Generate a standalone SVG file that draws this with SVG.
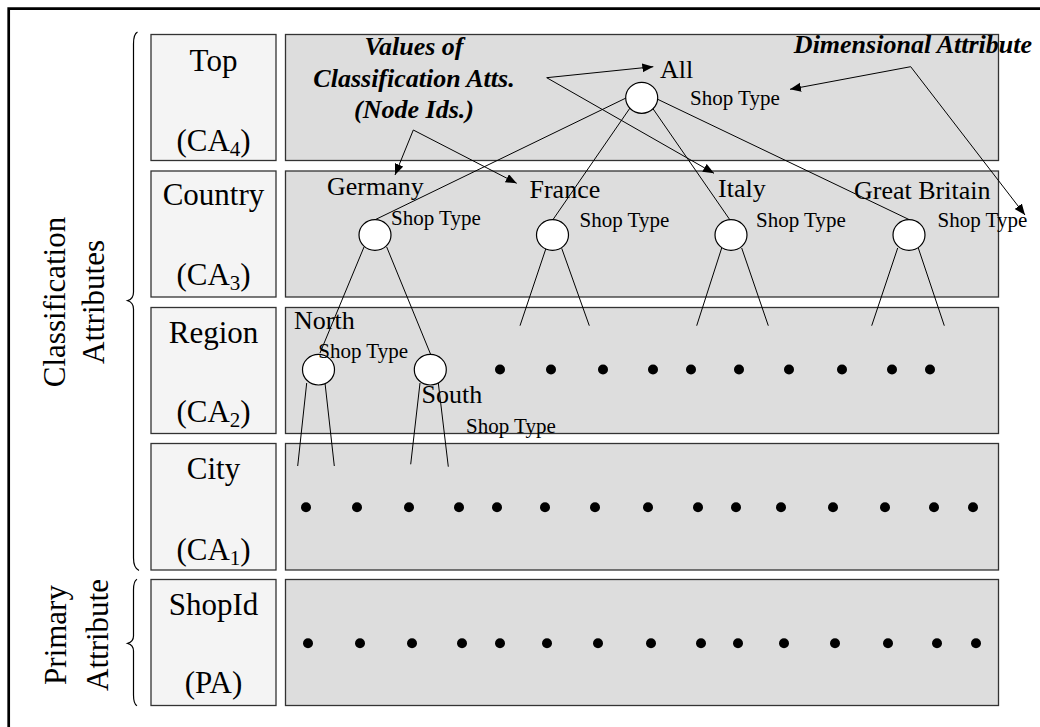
<svg xmlns="http://www.w3.org/2000/svg" width="1040" height="727" viewBox="0 0 1040 727">
  <style>
    .t { font-family: "Liberation Serif", "Times New Roman", serif; fill: #000; }
    .lbl { font-size: 31px; text-anchor: middle; }
    .val { font-size: 26px; }
    .st { font-size: 21px; }
    .note { font-size: 26px; font-weight: bold; font-style: italic; }
    .side { font-size: 31px; text-anchor: middle; }
    .lvl { fill: #f4f4f4; stroke: #333; stroke-width: 1.3; }
    .band { fill: #dddddd; stroke: #333; stroke-width: 1.3; }
    .node { fill: #fff; stroke: #000; stroke-width: 1.2; }
    .edge { stroke: #000; stroke-width: 1; fill: none; }
    .arr { stroke: #000; stroke-width: 1; fill: none; marker-end: url(#head); }
    .brace { stroke: #000; stroke-width: 1.2; fill: none; }
    .dot { fill: #000; }
  </style>
  <defs>
    <marker id="head" markerUnits="userSpaceOnUse" markerWidth="12" markerHeight="10" refX="11" refY="4.5" orient="auto">
      <path d="M0,0 L11,4.5 L0,9 z" fill="#000"/>
    </marker>
  </defs>

  <rect width="1040" height="727" fill="#fff"/>
  <!-- outer frame (runs off the right and bottom edges) -->
  <path d="M1040,8.7 H8.7 V727" fill="none" stroke="#000" stroke-width="2.7"/>

  <!-- side captions and braces -->
  <g id="classification-attributes">
    <path class="brace" d="M137.5,32 Q133.5,34 133.5,44 V292 Q133.5,299 127.7,300.7 Q133.5,302.5 133.5,309 V558 Q133.5,568 139,570.5"/>
    <text class="t side" transform="translate(0,302) rotate(-90)"><tspan x="0" y="64.5">Classification</tspan><tspan x="0" y="103.5">Attributes</tspan></text>
  </g>
  <g id="primary-attribute">
    <path class="brace" d="M137,579.3 Q133.5,581 133.5,590 V636 Q133.5,641.5 127.7,643.3 Q133.5,645 133.5,651 V695 Q133.5,704 137,705.7"/>
    <text class="t side" transform="translate(0,635) rotate(-90)"><tspan x="0" y="65.5">Primary</tspan><tspan x="0" y="107.5">Attribute</tspan></text>
  </g>

  <!-- level rows -->
  <g id="row-top">
    <rect class="lvl" x="151" y="34.5" width="125" height="126"/>
    <rect class="band" x="285.5" y="34.5" width="713" height="126"/>
    <text class="t lbl" x="213.5" y="71">Top</text>
    <text class="t lbl" x="213.5" y="151">(CA<tspan font-size="21" dy="5">4</tspan><tspan dy="-5">)</tspan></text>
  </g>
  <g id="row-country">
    <rect class="lvl" x="151" y="171" width="125" height="126"/>
    <rect class="band" x="285.5" y="171" width="713" height="126"/>
    <text class="t lbl" x="213.5" y="205">Country</text>
    <text class="t lbl" x="213.5" y="285">(CA<tspan font-size="21" dy="5">3</tspan><tspan dy="-5">)</tspan></text>
  </g>
  <g id="row-region">
    <rect class="lvl" x="151" y="307.5" width="125" height="126"/>
    <rect class="band" x="285.5" y="307.5" width="713" height="126"/>
    <text class="t lbl" x="213.5" y="343">Region</text>
    <text class="t lbl" x="213.5" y="422">(CA<tspan font-size="21" dy="5">2</tspan><tspan dy="-5">)</tspan></text>
  </g>
  <g id="row-city">
    <rect class="lvl" x="151" y="443.5" width="125" height="126.5"/>
    <rect class="band" x="285.5" y="443.5" width="713" height="126.5"/>
    <text class="t lbl" x="213.5" y="479">City</text>
    <text class="t lbl" x="213.5" y="560">(CA<tspan font-size="21" dy="5">1</tspan><tspan dy="-5">)</tspan></text>
  </g>
  <g id="row-shopid">
    <rect class="lvl" x="151" y="579.5" width="125" height="126"/>
    <rect class="band" x="285.5" y="579.5" width="713" height="126"/>
    <text class="t lbl" x="213.5" y="615">ShopId</text>
    <text class="t lbl" x="213.5" y="693">(PA)</text>
  </g>

  <!-- hierarchy edges and annotation arrows -->
  <g id="connectors">
    <line class="edge" x1="626" y1="98" x2="374.5" y2="220"/>
    <line class="edge" x1="630" y1="108" x2="552.7" y2="220"/>
    <line class="edge" x1="652.7" y1="108.3" x2="730" y2="220"/>
    <line class="edge" x1="657.7" y1="99.3" x2="910" y2="220"/>

    <line class="edge" x1="364" y1="247" x2="320" y2="353"/>
    <line class="edge" x1="386.7" y1="247" x2="430.7" y2="354.5"/>
    <line class="edge" x1="546" y1="248.3" x2="520" y2="325.7"/>
    <line class="edge" x1="561.7" y1="248.3" x2="589.3" y2="325.7"/>
    <line class="edge" x1="721.7" y1="248" x2="696.7" y2="325.7"/>
    <line class="edge" x1="741.7" y1="248" x2="768.3" y2="325.7"/>
    <line class="edge" x1="897.7" y1="248" x2="871.7" y2="325.7"/>
    <line class="edge" x1="918.3" y1="248" x2="944.3" y2="325.7"/>

    <line class="edge" x1="306.7" y1="383" x2="297.7" y2="466"/>
    <line class="edge" x1="325" y1="383" x2="334.3" y2="466"/>
    <line class="edge" x1="420" y1="383" x2="410.7" y2="464.3"/>
    <line class="edge" x1="438.3" y1="383" x2="448.3" y2="466.7"/>

    <line class="arr" x1="546.7" y1="77.7" x2="653.3" y2="66.7"/>
    <line class="arr" x1="546.7" y1="77.7" x2="714" y2="173.3"/>
    <line class="arr" x1="413.3" y1="130" x2="395" y2="175"/>
    <line class="arr" x1="413.3" y1="130" x2="516.7" y2="183.3"/>
    <line class="arr" x1="910.7" y1="66.7" x2="790" y2="89.3"/>
    <line class="arr" x1="910.7" y1="66.7" x2="1025" y2="215"/>
  </g>

  <!-- value nodes -->
  <g id="node-all">
    <ellipse class="node" cx="641.7" cy="97.8" rx="16" ry="15.5"/>
    <text class="t val" x="660" y="78">All</text>
    <text class="t st" x="690" y="105">Shop Type</text>
  </g>
  <g id="node-germany">
    <ellipse class="node" cx="375" cy="235" rx="16" ry="15.3"/>
    <text class="t val" x="327" y="195">Germany</text>
    <text class="t st" x="391" y="225">Shop Type</text>
  </g>
  <g id="node-france">
    <ellipse class="node" cx="552.5" cy="235" rx="16" ry="15.3"/>
    <text class="t val" x="529.5" y="198">France</text>
    <text class="t st" x="579.5" y="227">Shop Type</text>
  </g>
  <g id="node-italy">
    <ellipse class="node" cx="731" cy="235" rx="16" ry="15.3"/>
    <text class="t val" x="718" y="197">Italy</text>
    <text class="t st" x="756" y="227">Shop Type</text>
  </g>
  <g id="node-great-britain">
    <ellipse class="node" cx="909" cy="235" rx="16" ry="15.3"/>
    <text class="t val" x="854" y="199">Great Britain</text>
    <text class="t st" x="937.5" y="227">Shop Type</text>
  </g>
  <g id="node-north">
    <ellipse class="node" cx="318.5" cy="369.7" rx="16" ry="15.3"/>
    <text class="t val" x="294" y="329">North</text>
    <text class="t st" x="318.3" y="357.5">Shop Type</text>
  </g>
  <g id="node-south">
    <ellipse class="node" cx="430.3" cy="369.7" rx="16" ry="15.3"/>
    <text class="t val" x="421.5" y="403">South</text>
    <text class="t st" x="466" y="432.5">Shop Type</text>
  </g>

  <!-- annotations -->
  <g id="note-values">
    <text class="t note" text-anchor="middle" x="414" y="55">Values of</text>
    <text class="t note" text-anchor="middle" x="414" y="87">Classification Atts.</text>
    <text class="t note" text-anchor="middle" x="414" y="118">(Node Ids.)</text>
  </g>
  <g id="note-dimensional">
    <text class="t note" text-anchor="end" x="1032" y="53">Dimensional Attribute</text>
  </g>

  <!-- remaining members of each level -->
  <g id="region-members">
    <circle class="dot" cx="500" cy="369.5" r="5"/>
    <circle class="dot" cx="551" cy="369.5" r="5"/>
    <circle class="dot" cx="603" cy="369.5" r="5"/>
    <circle class="dot" cx="653" cy="369.5" r="5"/>
    <circle class="dot" cx="691" cy="369.5" r="5"/>
    <circle class="dot" cx="739" cy="369.5" r="5"/>
    <circle class="dot" cx="789" cy="369.5" r="5"/>
    <circle class="dot" cx="842" cy="369.5" r="5"/>
    <circle class="dot" cx="892" cy="369.5" r="5"/>
    <circle class="dot" cx="930" cy="369.5" r="5"/>
  </g>
  <g id="city-members">
    <circle class="dot" cx="306" cy="507.3" r="5"/>
    <circle class="dot" cx="357" cy="507.3" r="5"/>
    <circle class="dot" cx="409" cy="507.3" r="5"/>
    <circle class="dot" cx="459" cy="507.3" r="5"/>
    <circle class="dot" cx="497" cy="507.3" r="5"/>
    <circle class="dot" cx="545" cy="507.3" r="5"/>
    <circle class="dot" cx="595" cy="507.3" r="5"/>
    <circle class="dot" cx="648" cy="507.3" r="5"/>
    <circle class="dot" cx="698" cy="507.3" r="5"/>
    <circle class="dot" cx="736" cy="507.3" r="5"/>
    <circle class="dot" cx="781" cy="507.3" r="5"/>
    <circle class="dot" cx="833" cy="507.3" r="5"/>
    <circle class="dot" cx="885" cy="507.3" r="5"/>
    <circle class="dot" cx="934" cy="507.3" r="5"/>
    <circle class="dot" cx="973" cy="507.3" r="5"/>
  </g>
  <g id="shop-members">
    <circle class="dot" cx="308" cy="643.3" r="5"/>
    <circle class="dot" cx="360" cy="643.3" r="5"/>
    <circle class="dot" cx="412" cy="643.3" r="5"/>
    <circle class="dot" cx="462" cy="643.3" r="5"/>
    <circle class="dot" cx="500" cy="643.3" r="5"/>
    <circle class="dot" cx="547" cy="643.3" r="5"/>
    <circle class="dot" cx="598" cy="643.3" r="5"/>
    <circle class="dot" cx="651" cy="643.3" r="5"/>
    <circle class="dot" cx="701" cy="643.3" r="5"/>
    <circle class="dot" cx="738" cy="643.3" r="5"/>
    <circle class="dot" cx="784" cy="643.3" r="5"/>
    <circle class="dot" cx="835" cy="643.3" r="5"/>
    <circle class="dot" cx="888" cy="643.3" r="5"/>
    <circle class="dot" cx="937" cy="643.3" r="5"/>
    <circle class="dot" cx="976" cy="643.3" r="5"/>
  </g>
</svg>
